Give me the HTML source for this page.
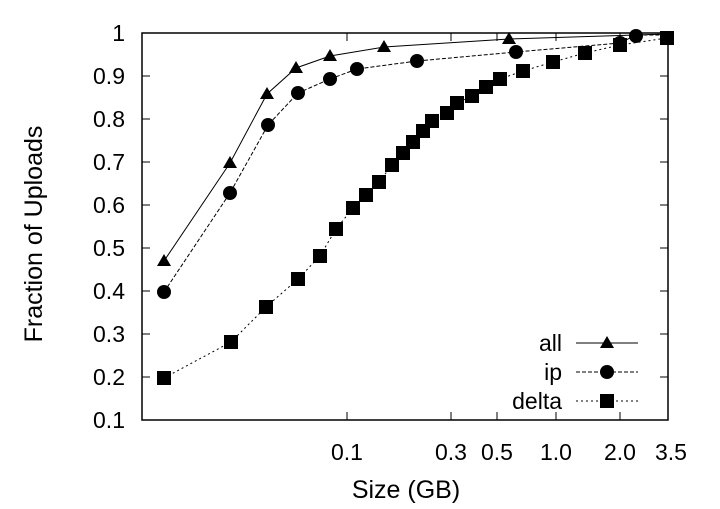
<!DOCTYPE html><html><head><style>body{margin:0;background:#fff}</style></head><body>
<svg width="720" height="504" xmlns="http://www.w3.org/2000/svg" font-family="Liberation Sans, sans-serif" font-size="23">
<rect x="142" y="33" width="526" height="387" fill="none" stroke="#000" stroke-width="1.5"/>
<g stroke="#000">
<path d="M142 76h8M142 119h8M142 162h8M142 205h8M142 248h8M142 291h8M142 334h8M142 377h8M668 76h-8M668 119h-8M668 162h-8M668 205h-8M668 248h-8M668 291h-8M668 334h-8M668 377h-8"/>
<path d="M347 420v-8M451 420v-8M497 420v-8M556 420v-8M620 420v-8M347 33v8M451 33v8M497 33v8M556 33v8M620 33v8"/>
</g>
<g text-anchor="end">
<text x="125" y="41">1</text><text x="125" y="84">0.9</text><text x="125" y="127">0.8</text><text x="125" y="170">0.7</text><text x="125" y="213">0.6</text><text x="125" y="256">0.5</text><text x="125" y="299">0.4</text><text x="125" y="342">0.3</text><text x="125" y="385">0.2</text><text x="125" y="428">0.1</text>
</g>
<g text-anchor="middle">
<text x="347" y="460">0.1</text><text x="451" y="460">0.3</text><text x="497" y="460">0.5</text><text x="556" y="460">1.0</text><text x="620" y="460">2.0</text><text x="671" y="460">3.5</text>
<text x="406" y="498" font-size="25">Size (GB)</text>
<text transform="translate(42 234) rotate(-90)" font-size="25">Fraction of Uploads</text>
</g>
<g fill="none" stroke="#000" stroke-width="1">
<polyline points="164,261 230,163 267,94 296,68 330,56 384,47 509,39 668,34"/>
<polyline stroke-dasharray="4,2" points="164,292 230,193 268,125 298,93 330,79 357,69 417,61 516,52 620,43 636,35 668,35"/>
<polyline stroke-dasharray="2,3" points="164,378 231,342 266,307 298,279 320,256 336,229 353,208 366,195 379,182 392,165 403,153 413,142 423,131 432,121 447,113 457,103 472,96 486,87 500,79 523,71 553,62 585,53 620,45 667,38"/>
<path d="M576 343h62"/><path stroke-dasharray="4,2" d="M576 372h62"/><path stroke-dasharray="2,3" d="M576 401h62"/>
</g>
<g fill="#000">
<path id="t" d="M0 -7L7 5H-7Z" transform="translate(164,261)"/>
<use href="#t" x="66" y="-98"/><use href="#t" x="103" y="-167"/><use href="#t" x="132" y="-193"/><use href="#t" x="166" y="-205"/><use href="#t" x="220" y="-214"/><use href="#t" x="345" y="-222"/><use href="#t" x="443" y="82"/>
<g>
<circle cx="164" cy="292" r="7"/><circle cx="230" cy="193" r="7"/><circle cx="268" cy="125" r="7"/><circle cx="298" cy="93" r="7"/><circle cx="330" cy="79" r="7"/><circle cx="357" cy="69" r="7"/><circle cx="417" cy="61" r="7"/><circle cx="516" cy="52" r="7"/><circle cx="620" cy="43" r="7"/><circle cx="636" cy="36" r="7"/><circle cx="607" cy="372" r="7"/>
</g>
<g>
<rect x="157" y="371" width="14" height="14"/><rect x="224" y="335" width="14" height="14"/><rect x="259" y="300" width="14" height="14"/><rect x="291" y="272" width="14" height="14"/><rect x="313" y="249" width="14" height="14"/><rect x="329" y="222" width="14" height="14"/><rect x="346" y="201" width="14" height="14"/><rect x="359" y="188" width="14" height="14"/><rect x="372" y="175" width="14" height="14"/><rect x="385" y="158" width="14" height="14"/><rect x="396" y="146" width="14" height="14"/><rect x="406" y="135" width="14" height="14"/><rect x="416" y="124" width="14" height="14"/><rect x="425" y="114" width="14" height="14"/><rect x="440" y="106" width="14" height="14"/><rect x="450" y="96" width="14" height="14"/><rect x="465" y="89" width="14" height="14"/><rect x="479" y="80" width="14" height="14"/><rect x="493" y="72" width="14" height="14"/><rect x="516" y="64" width="14" height="14"/><rect x="546" y="55" width="14" height="14"/><rect x="578" y="46" width="14" height="14"/><rect x="613" y="38" width="14" height="14"/><rect x="660" y="31" width="14" height="14"/><rect x="600" y="394" width="14" height="14"/>
</g>
</g>
<g text-anchor="end"><text x="562" y="351">all</text><text x="562" y="380">ip</text><text x="562" y="409">delta</text></g>
</svg>
</body></html>
